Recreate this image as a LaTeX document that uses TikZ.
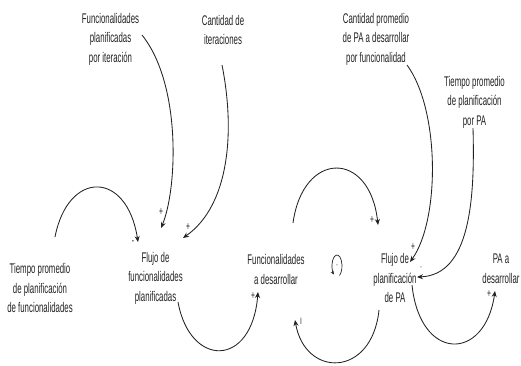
\documentclass[tikz,border=0pt]{standalone}
\usepackage{fontspec}
\setmainfont{Liberation Sans}[FakeStretch=0.56]
\usetikzlibrary{arrows.meta}
\definecolor{ink}{HTML}{222222}
\begin{document}
\begin{tikzpicture}[x=1pt,y=-1pt,
  lbl/.style={text=ink, align=center, inner sep=0pt, font=\fontsize{14}{19.5}\selectfont},
  sgn/.style={text=ink, inner sep=0pt, font=\fontsize{12}{12}\selectfont},
  link/.style={draw=ink, line width=0.85pt, -{Stealth[length=6pt,width=5pt]}}]
\useasboundingbox (0,0) rectangle (521,365);
% text nodes
\node[lbl] (fpi) at (110.5,39) {Funcionalidades\\planificadas\\por iteración};
\node[lbl] (cdi) at (223,30) {Cantidad de\\iteraciones};
\node[lbl] (cpa) at (376,39) {Cantidad promedio\\de PA a desarrollar\\por funcionalidad};
\node[lbl] (tpp) at (474.5,102) {Tiempo promedio\\de planificación\\por PA};
\node[lbl] (tpf) at (40,288) {Tiempo promedio\\de planificación\\de funcionalidades};
\node[lbl] (ffp) at (155.5,278) {Flujo de\\funcionalidades\\planificadas};
\node[lbl] (fad) at (276,269.5) {Funcionalidades\\a desarrollar};
\node[lbl] (fpp) at (395,278) {Flujo de\\planificación\\de PA};
\node[lbl] (pad) at (501,268.5) {PA a\\desarrollar};
% connector end points
\coordinate (a0) at (142,35);  \coordinate (a1) at (161,228);
\coordinate (b0) at (222,65);  \coordinate (b1) at (183,238);
\coordinate (c0) at (55,237);  \coordinate (c1) at (138,242);
\coordinate (d0) at (178,302); \coordinate (d1) at (258,292);
\coordinate (e0) at (293,223); \coordinate (e1) at (378,225);
\coordinate (f0) at (379,310); \coordinate (f1) at (295,320);
\coordinate (g0) at (407,65);  \coordinate (g1) at (410,262);
\coordinate (h0) at (473,128); \coordinate (h1) at (417,277);
\coordinate (i0) at (412,285); \coordinate (i1) at (495,291);
% connectors
\draw[link] (a0) .. controls (182,85) and (177,190) .. (a1);
\draw[link] (b0) .. controls (235,130) and (230,205) .. (b1);
\draw[link] (c0) .. controls (68,170) and (127,170) .. (c1);
\draw[link] (d0) .. controls (190,368) and (252,368) .. (d1);
\draw[link] (e0) .. controls (303,150) and (370,150) .. (e1);
\draw[link] (f0) .. controls (372,378) and (305,378) .. (f1);
\draw[link] (g0) .. controls (440,110) and (440,220) .. (g1);
\draw[link] (h0) .. controls (475,200) and (470,275) .. (h1);
\draw[link] (i0) .. controls (420,362) and (485,362) .. (i1);
% signs
\node[sgn] (sa) at (161,212) {+};
\node[sgn] (sb) at (188,227) {+};
\node[sgn] (sc) at (133,243) {-};
\node[sgn] (sd) at (253,296) {+};
\node[sgn] (se) at (372,220) {+};
\node[sgn] (sf) at (301,321) {ı};
\node[sgn] (sg) at (413,247) {+};
\node[sgn, font=\fontsize{8}{8}\selectfont] (sh) at (421,268) {-};
\node[sgn] (si) at (489,294) {+};
% loop symbol
\node[sgn, font=\fontsize{8}{8}\selectfont] (loop) at (337,266) {-};
\draw[draw=ink, line width=0.7pt, -{Stealth[length=3.5pt,width=3.5pt]}]
  ([shift={(300:5pt and 11pt)}]loop.center) arc[start angle=300, end angle=590, x radius=5pt, y radius=11pt];
\end{tikzpicture}
\end{document}
